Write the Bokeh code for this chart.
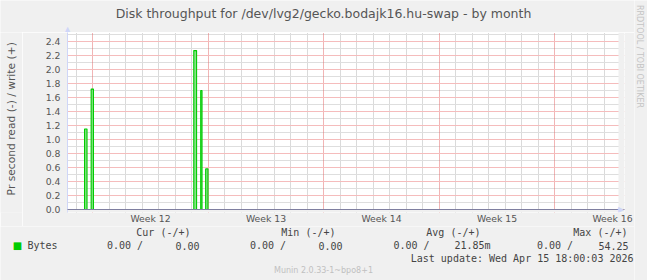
import math
from bokeh.plotting import figure
from bokeh.layouts import row, column
from bokeh.models import (FixedTicker, Grid, Label, Range1d, CustomJSTickFormatter,
                          PrintfTickFormatter, BoxAnnotation)
from bokeh.embed import file_html
from bokeh.resources import INLINE

# ---------------- data ----------------
# x is measured in days since Monday 2026-03-16 00:00 (start of ISO week 12)
week_labels = ["Week 12", "Week 13", "Week 14", "Week 15", "Week 16"]
week_start_days = [0, 7, 14, 21, 28]

# write throughput spikes (bytes per second)
spike_start = [-0.50, -0.10, 6.12, 6.54, 6.84]
spike_end = [-0.35, 0.04, 6.29, 6.62, 6.98]
spike_value = [1.15, 1.72, 2.27, 1.70, 0.58]

y_ticks = [0.0, 0.2, 0.4, 0.6, 0.8, 1.0, 1.2, 1.4, 1.6, 1.8, 2.0, 2.2, 2.4]

legend_series = "Bytes"
legend_headers = ["Cur (-/+)", "Min (-/+)", "Avg (-/+)", "Max (-/+)"]
legend_read = ["0.00", "0.00", "0.00", "0.00"]
legend_write = ["0.00", "0.00", "21.85m", "54.25"]
last_update = "Last update: Wed Apr 15 18:00:03 2026"
title_text = "Disk throughput for /dev/lvg2/gecko.bodajk16.hu-swap - by month"
ylabel_text = "Pr second read (-) / write (+)"
watermark = "RRDTOOL / TOBI OETIKER"
version_text = "Munin 2.0.33-1~bpo8+1"

# ---------------- layout constants (canvas pixels) ----------------
BG = "#F0F0F0"
TXT = "#555555"
LEG = "#444444"
ARROW = "#CFD6F8"
LEFT_W = 634          # width of the left column
RIGHT_W = 647 - LEFT_W
TOP_H = 32
MID_H = 194
BOT_H = 280 - TOP_H - MID_H
YLAB_W = 22
PLOT_L, PLOT_R = 67, 618      # visible plot area
FRAME_R = 624                 # frame extends a bit to host the axis arrow
ZERO_PX, FRAME_B = 209, 212
PX_PER_DAY = 16.5
DAY0_PX = 92.3
PX_PER_UNIT = 70.0


def strip(w, h):
    f = figure(width=w, height=h, output_backend="svg", toolbar_location=None,
               x_range=Range1d(0, w), y_range=Range1d(h, 0),
               x_axis_location=None, y_axis_location=None, min_border=0,
               border_fill_color=BG, background_fill_color=BG,
               outline_line_color=None)
    f.xgrid.visible = False
    f.ygrid.visible = False
    return f


def lab(f, text, x, y, size, align="left", color=TXT, font="DejaVu Sans",
        angle=0.0, level="annotation"):
    f.add_layout(Label(x=x, y=y, text=text, text_font=font,
                       text_font_size=size, text_color=color,
                       text_align=align, text_baseline="middle",
                       angle=angle, level=level))


# ---------------- main plot ----------------
x_lo = (PLOT_L - DAY0_PX) / PX_PER_DAY
x_plot_hi = (PLOT_R - DAY0_PX) / PX_PER_DAY
x_frame_hi = (FRAME_R - DAY0_PX) / PX_PER_DAY
y_lo = -(FRAME_B - ZERO_PX) / PX_PER_UNIT
y_hi = (ZERO_PX - TOP_H) / PX_PER_UNIT

p = figure(width=LEFT_W - YLAB_W, height=MID_H, output_backend="svg",
           toolbar_location=None,
           x_range=Range1d(x_lo, x_frame_hi), y_range=Range1d(y_lo, y_hi),
           min_border_left=PLOT_L - YLAB_W, min_border_right=LEFT_W - FRAME_R,
           min_border_top=0, min_border_bottom=MID_H - (FRAME_B - TOP_H),
           border_fill_color=BG, background_fill_color="#FFFFFF",
           outline_line_color=None)
p.xgrid.visible = False
p.ygrid.visible = False

minor_days = [d for d in range(-1, 32) if d % 7 != 0]
major_days = [d for d in range(0, 32, 7)]
minor_y = [round(0.1 + 0.2 * i, 2) for i in range(13)]
major_y = [v for v in y_ticks if v > 0]

p.add_layout(Grid(dimension=0, ticker=FixedTicker(ticks=minor_days),
                  grid_line_color="#b4b4b4", grid_line_dash="1 1"))
p.add_layout(Grid(dimension=1, ticker=FixedTicker(ticks=minor_y),
                  grid_line_color="#dedede"))
p.add_layout(Grid(dimension=0, ticker=FixedTicker(ticks=major_days),
                  grid_line_color="#e26a6a", grid_line_dash="1 1"))
p.add_layout(Grid(dimension=1, ticker=FixedTicker(ticks=major_y),
                  grid_line_color="#f5bcbc"))

# spikes
p.quad(left=spike_start, right=spike_end, bottom=0, top=spike_value,
       fill_color="#86e286", line_color="#00CC00", line_width=1.1)

# grey out the frame margins beyond the drawing area
p.add_layout(BoxAnnotation(left=x_plot_hi, fill_color=BG, fill_alpha=1.0,
                           line_color=None))
p.add_layout(BoxAnnotation(top=0, fill_color=BG, fill_alpha=1.0,
                           line_color=None))
# zero line and arrow
p.add_layout(Grid(dimension=1, ticker=FixedTicker(ticks=[0]),
                  bounds=(x_lo, x_plot_hi), grid_line_color="#7f7fa0",
                  level="overlay"))
lab(p, "\u25B6", (PLOT_R + 2.5 - DAY0_PX) / PX_PER_DAY, 0, "8px",
    align="center", color=ARROW, level="overlay")

# axes
label_pos = [d + 3.5 for d in week_start_days]
p.xaxis.ticker = FixedTicker(ticks=label_pos)
p.xaxis.formatter = CustomJSTickFormatter(
    args=dict(pos=label_pos, labs=week_labels),
    code="const i = pos.indexOf(tick); return i >= 0 ? labs[i] : '';")
p.yaxis.ticker = FixedTicker(ticks=y_ticks)
p.yaxis.formatter = PrintfTickFormatter(format="%.1f")
for ax in (p.xaxis[0], p.yaxis[0]):
    ax.major_tick_line_color = None
    ax.minor_tick_line_color = None
    ax.major_tick_out = 0
    ax.major_tick_in = 0
    ax.major_label_text_font = "DejaVu Sans"
    ax.major_label_text_font_size = "9.3px"
    ax.major_label_text_color = TXT
p.xaxis.major_label_standoff = 0
p.yaxis.major_label_standoff = 7
p.xaxis.axis_line_color = None
p.yaxis.axis_line_color = ARROW

# ---------------- surrounding strips ----------------
top = strip(LEFT_W, TOP_H)
lab(top, title_text, 323, 13, "12.5px", align="center")
lab(top, "\u25B2", PLOT_L, 28.5, "8px", align="center", color=ARROW)

left = strip(YLAB_W, MID_H)
lab(left, ylabel_text, 11, 125 - TOP_H, "10.7px", align="center",
    angle=math.pi / 2)

right = strip(RIGHT_W, 280)
lab(right, watermark, 639 - LEFT_W, 56, "8px", align="center",
    color="#c4c4c4", angle=-math.pi / 2)

bot = strip(LEFT_W, BOT_H)
y0 = TOP_H + MID_H
mono = "DejaVu Sans Mono"
header_right = [190, 335, 480, 627]
read_right = [142.5, 285.5, 429, 572.5]
write_right = [199, 342, 490, 628]
lab(bot, "\u25A0", 17, 245 - y0, "10px", align="center", color="#00CC00")
lab(bot, legend_series, 27, 245 - y0, "10px", color=LEG, font=mono)
for i in range(4):
    lab(bot, legend_headers[i], header_right[i], 232 - y0, "10px",
        align="right", color=LEG, font=mono)
    lab(bot, legend_read[i] + " /", read_right[i], 245 - y0, "10px",
        align="right", color=LEG, font=mono)
    lab(bot, legend_write[i], write_right[i], 245 - y0, "10px",
        align="right", color=LEG, font=mono)
lab(bot, last_update, 633, 258 - y0, "10px", align="right", color=LEG, font=mono)
lab(bot, version_text, 323, 270 - y0, "8px", align="center", color="#c0c0c0")

layout = row(column(top, row(left, p), bot), right)
open("out.html", "w").write(file_html(layout, INLINE))
